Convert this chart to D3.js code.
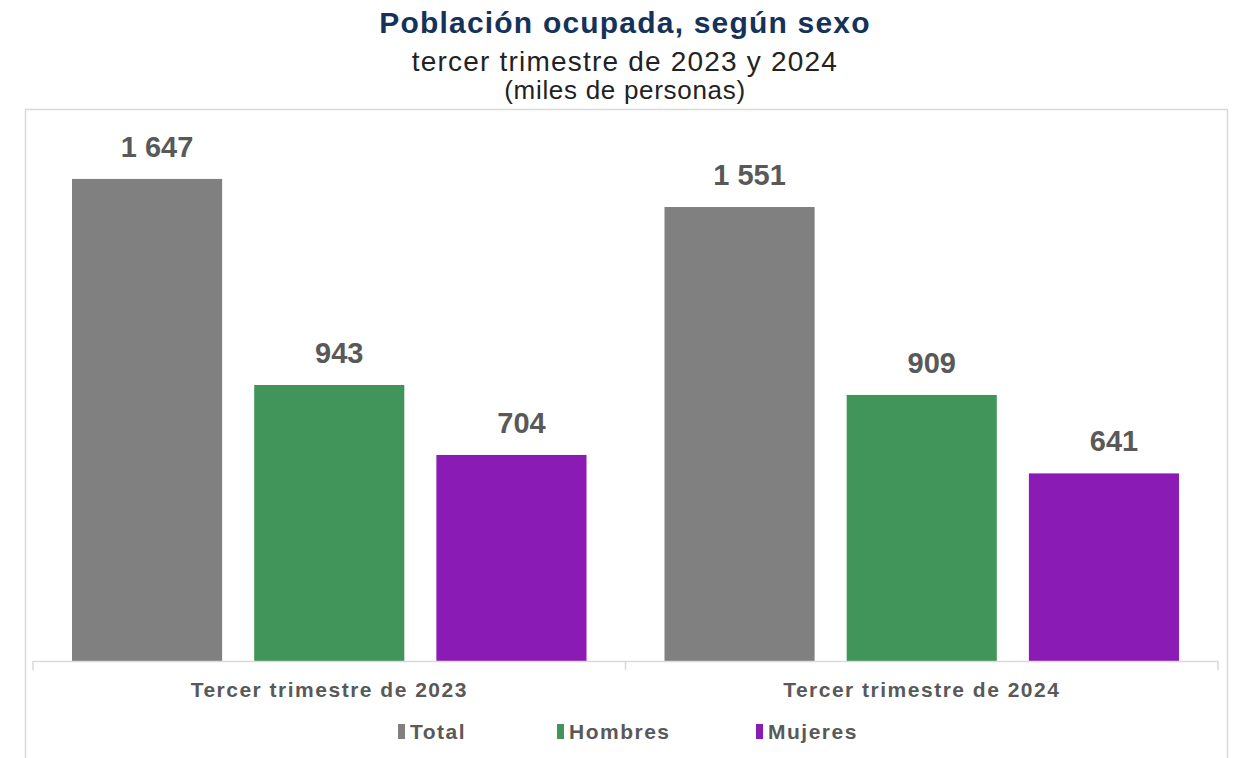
<!DOCTYPE html>
<html>
<head>
<meta charset="utf-8">
<script src="https://cdn.jsdelivr.net/npm/d3@7"></script>
<style>
  body { margin: 0; background: #fff; }
  text { font-family: 'Liberation Sans', Arial, sans-serif; }
</style>
</head>
<body>
<div id="chart"></div>
<script>
const categories = ['Tercer trimestre de 2023', 'Tercer trimestre de 2024'];
const seriesNames = ['Total', 'Hombres', 'Mujeres'];
const totalValues = [1647, 1551];
const hombresValues = [943, 909];
const mujeresValues = [704, 641];
const colors = ['#808080', '#41955a', '#8a1cb5'];

const width = 1250;
const height = 758;

const svg = d3.select('#chart').append('svg')
  .attr('width', width)
  .attr('height', height);

// titles
svg.append('text')
  .attr('x', 625).attr('y', 33)
  .attr('text-anchor', 'middle')
  .attr('font-size', 30).attr('font-weight', 'bold')
  .attr('letter-spacing', 1.2)
  .attr('fill', '#14325a')
  .text('Población ocupada, según sexo');
svg.append('text')
  .attr('x', 625).attr('y', 71)
  .attr('text-anchor', 'middle')
  .attr('font-size', 28).attr('fill', '#222')
  .attr('letter-spacing', 1.2)
  .text('tercer trimestre de 2023 y 2024');
svg.append('text')
  .attr('x', 625).attr('y', 99)
  .attr('text-anchor', 'middle')
  .attr('font-size', 26).attr('fill', '#222')
  .attr('letter-spacing', 0.7)
  .text('(miles de personas)');

// frame
svg.append('rect')
  .attr('x', 25.5).attr('y', 109.5)
  .attr('width', 1202).attr('height', 660)
  .attr('fill', 'none')
  .attr('stroke', '#d9d9d9')
  .attr('stroke-width', 1.5);

const plotLeft = 33, plotRight = 1218, baseline = 661;

const x0 = d3.scaleBand()
  .domain(categories)
  .range([plotLeft, plotRight]);

const x1 = d3.scaleBand()
  .domain(seriesNames)
  .range([0, x0.bandwidth()])
  .paddingInner(0.176)
  .paddingOuter(0.214);

const y = d3.scaleLinear()
  .domain([0, 1800])
  .range([baseline, baseline - 1800 * 0.2927]);

const data = categories.map((c, i) => ({
  category: c,
  values: [totalValues[i], hombresValues[i], mujeresValues[i]]
}));

const groups = svg.selectAll('.group')
  .data(data)
  .enter().append('g')
  .attr('class', 'group')
  .attr('transform', d => `translate(${x0(d.category)},0)`);

groups.selectAll('rect')
  .data(d => d.values.map((v, i) => ({ name: seriesNames[i], value: v, idx: i })))
  .enter().append('rect')
  .attr('x', d => x1(d.name))
  .attr('y', d => y(d.value))
  .attr('width', x1.bandwidth())
  .attr('height', d => baseline - y(d.value))
  .attr('fill', d => colors[d.idx]);

const fmt = v => d3.format(',')(v).replace(/,/g, ' ');

// labels sit a little right of the bar centre, as in the original
groups.selectAll('.label')
  .data(d => d.values.map((v, i) => ({ name: seriesNames[i], value: v })))
  .enter().append('text')
  .attr('class', 'label')
  .attr('x', d => x1(d.name) + x1.bandwidth() / 2 + 10)
  .attr('y', d => y(d.value) - 22)
  .attr('text-anchor', 'middle')
  .attr('font-size', 29).attr('font-weight', 'bold')
  .attr('fill', '#595959')
  .text(d => fmt(d.value));

// x axis
const xAxis = svg.append('g')
  .attr('transform', `translate(0,${baseline})`)
  .call(d3.axisBottom(x0).tickSize(0).tickPadding(21));
xAxis.select('.domain').attr('stroke', '#d9d9d9').attr('stroke-width', 1.5);
xAxis.selectAll('text')
  .attr('font-size', 21).attr('font-weight', 'bold')
  .attr('fill', '#595959')
  .style('font-family', "'Liberation Sans', Arial, sans-serif")
  .attr('letter-spacing', 1.5);

// tick separators between categories
const sepX = [plotLeft, plotLeft + x0.step(), plotRight];
svg.selectAll('.sep')
  .data(sepX)
  .enter().append('line')
  .attr('x1', d => d).attr('x2', d => d)
  .attr('y1', baseline).attr('y2', baseline + 9)
  .attr('stroke', '#d9d9d9').attr('stroke-width', 1.5);

// legend
const legendX = [398, 557, 756];
const legend = svg.selectAll('.legend')
  .data(seriesNames)
  .enter().append('g')
  .attr('transform', (d, i) => `translate(${legendX[i]},724)`);
legend.append('rect')
  .attr('width', 7).attr('height', 15)
  .attr('fill', (d, i) => colors[i]);
legend.append('text')
  .attr('x', 12).attr('y', 15)
  .attr('font-size', 21).attr('font-weight', 'bold')
  .attr('fill', '#595959')
  .attr('letter-spacing', 1.5)
  .text(d => d);
</script>
</body>
</html>
